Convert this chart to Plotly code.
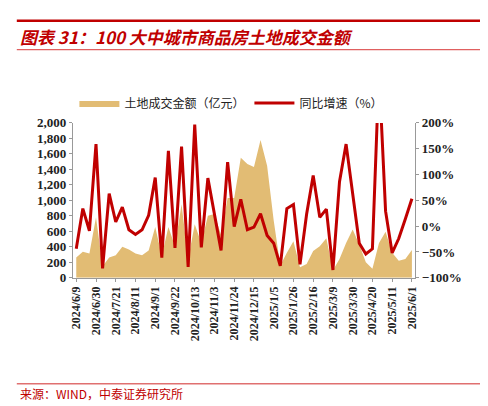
import plotly.graph_objects as go
import datetime as dt

start = dt.date(2024, 6, 9)
dates = [(start + dt.timedelta(weeks=i)) for i in range(52)]
categories = [f"{d.year}/{d.month}/{d.day}" for d in dates]

amount = [262, 337, 312, 782, 150, 262, 290, 400, 365, 312, 290, 353, 657, 283, 657, 407,
          950, 240, 690, 450, 800, 823, 553, 1030, 1030, 1550, 1468, 1430, 1780, 1447, 740, 158,
          324, 470, 137, 179, 345, 407, 511, 96, 241, 449, 624, 428, 200, 116, 449, 595,
          324, 220, 241, 358]
yoy = [-44, 34, -9, 159, -82, 63, 8, 37, -7, -16, -7, 21, 94, -61, 146, -42,
       154, -79, 197, -41, 93, 20, -47, 124, -1, 52, -7, -2, 24, -18, -33, -77,
       34, 42, -74, 23, 98, 17, 33, -85, 86, 159, 67, -33, -54, -44, 300, 29,
       -52, -24, 14, 53]
tick_labels = categories[::3]

red = "#C00000"
fig = go.Figure()
fig.add_trace(go.Scatter(x=categories, y=amount, name="土地成交金额（亿元）", mode="lines",
                         fill="tozeroy", line=dict(width=0, color="#E2BC74"),
                         fillcolor="#E2BC74", yaxis="y"))
fig.add_trace(go.Scatter(x=categories, y=yoy, name="同比增速（%）", mode="lines",
                         line=dict(width=3, color=red), yaxis="y2", cliponaxis=True))

ser = dict(family="Liberation Serif", size=13, color="#222", weight="bold")
fig.update_layout(
    width=488, height=406, margin=dict(l=0, r=0, t=0, b=0),
    paper_bgcolor="white", plot_bgcolor="white", showlegend=True,
    legend=dict(orientation="h", x=0.13, y=0.775, xanchor="left", yanchor="middle",
                font=dict(family="Noto Sans CJK SC", size=12, color="#222"),
                bgcolor="rgba(0,0,0,0)", itemwidth=40),
    xaxis=dict(domain=[0.127, 0.840], type="category", range=[-0.5, 51.5],
               tickvals=tick_labels, ticktext=tick_labels, tickangle=-90,
               tickfont=dict(family="Liberation Serif", size=12, color="#222", weight="bold"),
               showline=True, linecolor="#999", ticks="outside", ticklen=3, tickcolor="#999",
               showgrid=False),
    yaxis=dict(domain=[0.328, 0.724], range=[0, 2000], dtick=200, tickformat=",",
               tickfont=ser, showline=True, linecolor="#999", ticks="outside",
               ticklen=3, tickcolor="#999", showgrid=False, zeroline=False),
    yaxis2=dict(overlaying="y", side="right", anchor="x", range=[-100, 200], dtick=50,
                ticksuffix="%", tickfont=ser, showline=True, linecolor="#999",
                ticks="outside", ticklen=3, tickcolor="#999", showgrid=False, zeroline=False),
    shapes=[
        dict(type="line", xref="paper", yref="paper", x0=0.01, x1=0.99, y0=1-6/406, y1=1-6/406,
             line=dict(color=red, width=2.5)),
        dict(type="line", xref="paper", yref="paper", x0=0.01, x1=0.99, y0=1-36/406, y1=1-36/406,
             line=dict(color="#E06060", width=1.2)),
        dict(type="line", xref="paper", yref="paper", x0=0.01, x1=0.99, y0=1-383/406, y1=1-383/406,
             line=dict(color="#E07070", width=1.5)),
    ],
    annotations=[
        dict(text="<b><i>图表 31：100 大中城市商品房土地成交金额</i></b>", xref="paper", yref="paper",
             x=0.012, y=1-22/406, xanchor="left", yanchor="middle", showarrow=False,
             font=dict(family="Noto Sans CJK SC", size=17, color=red)),
        dict(text="来源：WIND，中泰证券研究所", xref="paper", yref="paper",
             x=0.012, y=1-393/406, xanchor="left", yanchor="middle", showarrow=False,
             font=dict(family="Noto Sans CJK SC", size=12, color=red)),
    ],
)
fig.write_html("out.html")
